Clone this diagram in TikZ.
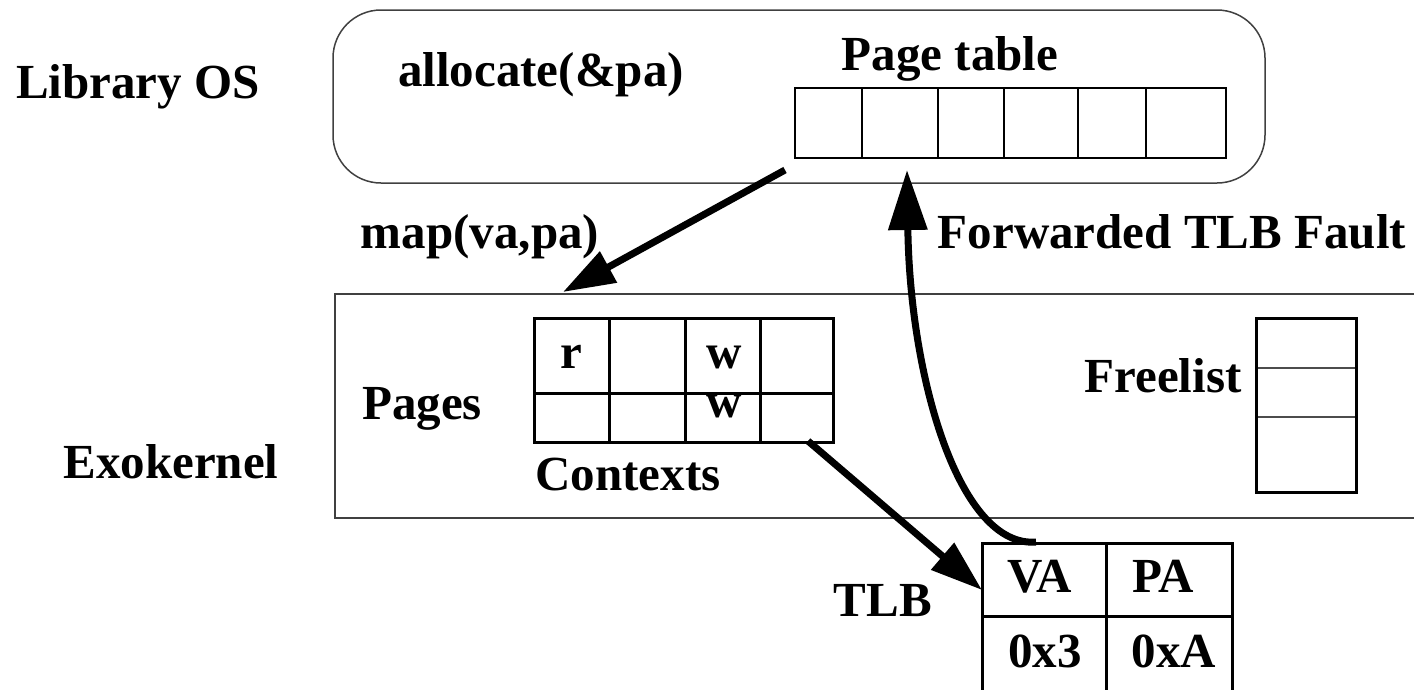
\documentclass[tikz,border=0pt]{standalone}
\usepackage{fontspec}
\setmainfont{Liberation Serif}
\usetikzlibrary{arrows.meta}
\begin{document}
\begin{tikzpicture}[x=1pt,y=-1pt,
  lbl/.style={inner sep=0pt, anchor=base, font=\fontsize{49}{58}\selectfont\bfseries},
  thinbox/.style={draw=black!75, line width=1.5pt},
  ptcell/.style={draw=black, line width=1.5pt, minimum height=70pt, inner sep=0pt, outer sep=0pt},
  gridcell/.style={draw=black, line width=3pt, inner sep=0pt, outer sep=0pt},
  bigarrow/.style={line width=7pt, -{Triangle[length=52pt,width=34pt]}},
  curvearrow/.style={line width=7pt, -{Triangle[length=60pt,width=38pt]}}]
\useasboundingbox (0,0) rectangle (1414,689);

% ---- Library OS layer ----
\node[thinbox, rounded corners=48pt, minimum width=932pt, minimum height=173pt, inner sep=0pt] (libos) at (799,96.5) {};
\node[lbl] (liblabel) at (138,98) {Library OS};
\node[lbl] (alloc) at (541,86) {allocate(\&pa)};
\node[lbl] (ptlabel) at (950,70) {Page table};

% page table entries
\node[ptcell, minimum width=67pt] (pt1) at (828.5,123) {};
\node[ptcell, minimum width=76pt] (pt2) at (900,123) {};
\node[ptcell, minimum width=66pt] (pt3) at (971,123) {};
\node[ptcell, minimum width=74pt] (pt4) at (1041,123) {};
\node[ptcell, minimum width=68pt] (pt5) at (1112,123) {};
\node[ptcell, minimum width=80pt] (pt6) at (1186,123) {};

% ---- Exokernel layer ----
\node[thinbox, minimum width=1084pt, minimum height=224pt, inner sep=0pt, anchor=north west] (exo) at (334,293) {};
\node[lbl] (exolabel) at (171,478) {Exokernel};
\node[lbl] (pages) at (422,419) {Pages};
\node[lbl] (ctxlabel) at (628,490) {Contexts};

% contexts grid
\node[gridcell, minimum width=75pt, minimum height=75pt] (c11) at (571.5,355.5) {};
\node[gridcell, minimum width=76pt, minimum height=75pt] (c12) at (647,355.5) {};
\node[gridcell, minimum width=75pt, minimum height=75pt] (c13) at (722.5,355.5) {};
\node[gridcell, minimum width=73pt, minimum height=75pt] (c14) at (796.5,355.5) {};
\node[gridcell, minimum width=75pt, minimum height=49pt] (c21) at (571.5,417.5) {};
\node[gridcell, minimum width=76pt, minimum height=49pt] (c22) at (647,417.5) {};
\node[gridcell, minimum width=75pt, minimum height=49pt] (c23) at (722.5,417.5) {};
\node[gridcell, minimum width=73pt, minimum height=49pt] (c24) at (796.5,417.5) {};
\node[lbl] (rbit) at (571,368) {r};
\node[lbl] (wbit1) at (724,368) {w};
\node[lbl] (wbit2) at (724,417) {w};

% free list
\node[lbl] (freelabel) at (1163,392) {Freelist};
\node[draw=black!70, line width=1.5pt, minimum width=100pt, minimum height=49pt, inner sep=0pt] (f1) at (1306,343.5) {};
\node[draw=black!70, line width=1.5pt, minimum width=100pt, minimum height=49pt, inner sep=0pt] (f2) at (1306,392.5) {};
\node[draw=black, line width=3pt, minimum width=100pt, minimum height=174pt, inner sep=0pt] (flist) at (1306,405) {};

% ---- TLB ----
\node[lbl] (tlblabel) at (883,616) {TLB};
\node[gridcell, minimum width=124pt, minimum height=73pt] (t11) at (1044,579.5) {};
\node[gridcell, minimum width=126pt, minimum height=73pt] (t12) at (1169,579.5) {};
\node[gridcell, minimum width=124pt, minimum height=90pt, anchor=north] (t21) at (1044,616) {};
\node[gridcell, minimum width=126pt, minimum height=90pt, anchor=north] (t22) at (1169,616) {};
\node[lbl] (va) at (1040,592) {VA};
\node[lbl] (pa) at (1163,592) {PA};
\node[lbl] (vaval) at (1045,667) {0x3};
\node[lbl] (paval) at (1174,667) {0xA};

% ---- connector labels ----
\node[lbl] (maplabel) at (480,248) {map(va,pa)};
\node[lbl] (fwdlabel) at (1172,248) {Forwarded TLB Fault};

% ---- connectors ----
\coordinate (mapstart) at (785,170);
\coordinate (mapend) at (563,292);
\draw[bigarrow] (mapstart) -- (mapend);

\coordinate (ctxout) at (808,441);
\coordinate (tlbin) at (982,590);
\draw[bigarrow] (ctxout) -- (tlbin);

\coordinate (faultstart) at (1036,542);
\coordinate (faultend) at (907,170);
\draw[curvearrow] (faultstart) .. controls (960,548) and (910,380) .. (faultend);
\end{tikzpicture}
\end{document}
